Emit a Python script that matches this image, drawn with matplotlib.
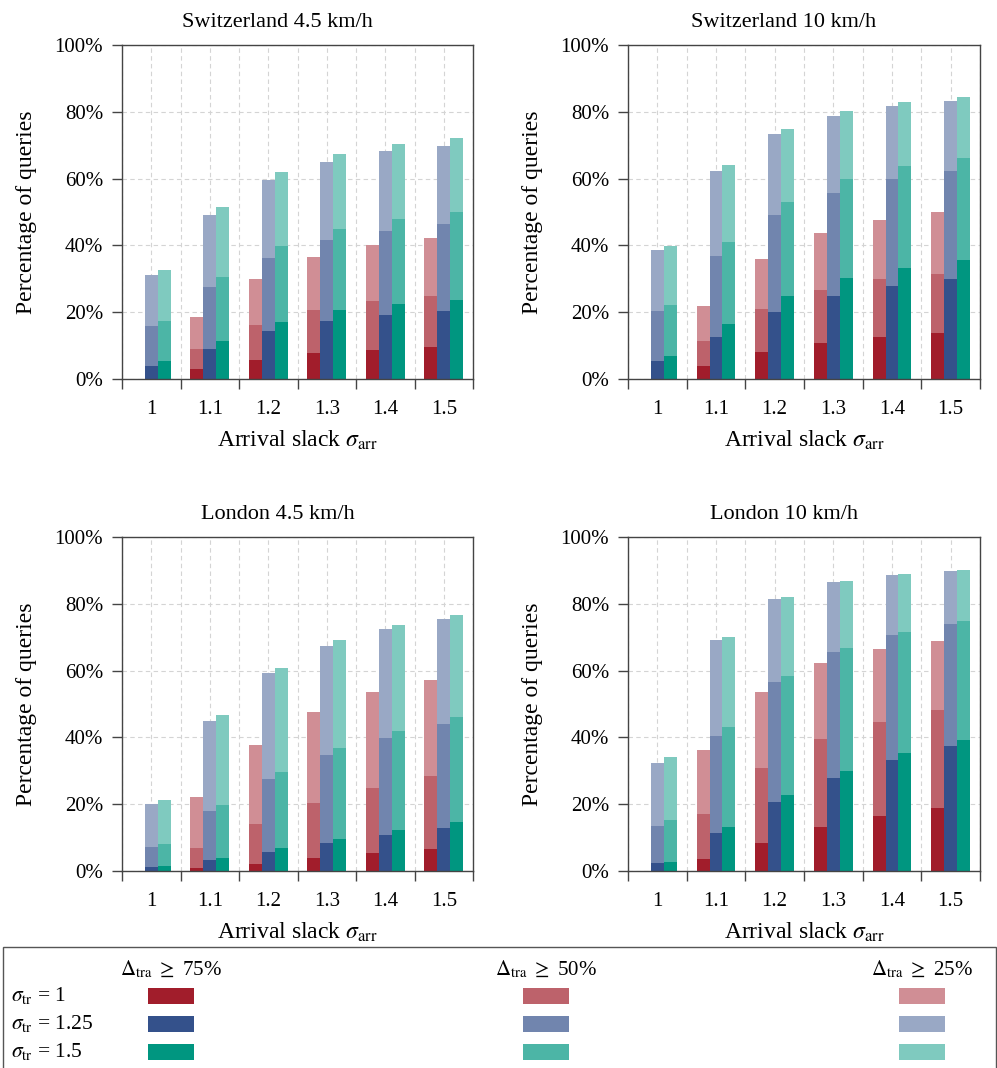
import matplotlib.pyplot as plt
import numpy as np
from matplotlib.patches import Rectangle

plt.rcParams['font.family'] = ['Liberation Serif', 'DejaVu Serif']
plt.rcParams['mathtext.fontset'] = 'stix'

# arrival slack values and labels
slack = np.array([1.0, 1.1, 1.2, 1.3, 1.4, 1.5])
slack_labels = ['1', '1.1', '1.2', '1.3', '1.4', '1.5']
sigma_tr = ['1', '1.25', '1.5']
thresholds = ['75', '50', '25']
titles = ['Switzerland 4.5 km/h', 'Switzerland 10 km/h',
          'London 4.5 km/h', 'London 10 km/h']

# rows: sigma_tr = 1, 1.25, 1.5 -- cumulative share of queries (%)
ch45_75 = [[0, 2.9, 5.6, 7.7, 8.8, 9.5],
           [4.0, 8.9, 14.3, 17.3, 19.1, 20.3],
           [5.3, 11.3, 17.2, 20.6, 22.4, 23.7]]
ch45_50 = [[0, 9.1, 16.1, 20.6, 23.5, 24.9],
           [15.8, 27.4, 36.3, 41.5, 44.4, 46.3],
           [17.5, 30.4, 39.7, 45.0, 48.0, 49.9]]
ch45_25 = [[0, 18.6, 29.8, 36.4, 40.2, 42.3],
           [31.0, 49.2, 59.6, 65.1, 68.2, 69.8],
           [32.6, 51.5, 62.0, 67.4, 70.5, 72.1]]

ch10_75 = [[0, 3.8, 8.0, 10.8, 12.6, 13.7],
           [5.5, 12.6, 20.2, 24.8, 27.7, 29.9],
           [6.8, 16.6, 24.8, 30.1, 33.1, 35.5]]
ch10_50 = [[0, 11.3, 21.1, 26.7, 29.9, 31.5],
           [20.4, 36.9, 49.0, 55.8, 59.9, 62.4],
           [22.3, 41.1, 53.0, 59.8, 63.7, 66.1]]
ch10_25 = [[0, 22.0, 35.9, 43.7, 47.7, 49.9],
           [38.7, 62.4, 73.5, 78.8, 81.7, 83.3],
           [39.9, 64.2, 75.0, 80.2, 83.0, 84.5]]

lon45_75 = [[0, 0.9, 2.2, 3.9, 5.4, 6.6],
            [1.1, 3.2, 5.8, 8.4, 10.8, 13.0],
            [1.4, 3.8, 6.9, 9.6, 12.3, 14.7]]
lon45_50 = [[0, 6.8, 14.1, 20.3, 24.9, 28.3],
            [7.2, 17.9, 27.5, 34.7, 39.8, 44.0],
            [8.1, 19.7, 29.6, 36.8, 41.9, 46.1]]
lon45_25 = [[0, 22.1, 37.6, 47.6, 53.7, 57.2],
            [20.0, 45.0, 59.2, 67.5, 72.4, 75.3],
            [21.4, 46.6, 60.9, 69.1, 73.7, 76.7]]

lon10_75 = [[0, 3.6, 8.4, 13.2, 16.6, 19.0],
            [2.4, 11.4, 20.7, 27.8, 33.3, 37.4],
            [2.8, 13.3, 22.8, 29.9, 35.4, 39.3]]
lon10_50 = [[0, 17.1, 30.8, 39.5, 44.7, 48.3],
            [13.5, 40.5, 56.6, 65.6, 70.7, 73.9],
            [15.3, 43.0, 58.4, 66.8, 71.7, 74.8]]
lon10_25 = [[0, 36.1, 53.7, 62.3, 66.6, 69.0],
            [32.4, 69.2, 81.4, 86.4, 88.6, 89.8],
            [34.0, 70.2, 82.1, 86.7, 88.9, 90.0]]

panels = [(ch45_75, ch45_50, ch45_25), (ch10_75, ch10_50, ch10_25),
          (lon45_75, lon45_50, lon45_25), (lon10_75, lon10_50, lon10_25)]

dark = ['#A11D2B', '#34518B', '#009680']
mid = ['#BD626B', '#7185AE', '#4CB5A6']
light = ['#D08E95', '#99A8C5', '#7FCABF']

W, H = 997, 1068
fig = plt.figure(figsize=(W / 100, H / 100), dpi=100)

# axes boxes in pixels: left, top, right, bottom
boxes = [(122, 45, 473, 379), (628, 45, 980, 379),
         (122, 537, 473, 871), (628, 537, 980, 871)]

bw = 0.022
for k, (l, t, r, b) in enumerate(boxes):
    ax = fig.add_axes([l / W, 1 - b / H, (r - l) / W, (b - t) / H])
    v75, v50, v25 = [np.array(a) for a in panels[k]]
    for i in range(3):
        x = slack + (i - 1) * bw
        ax.bar(x, v75[i], bw, color=dark[i], lw=0, zorder=2)
        ax.bar(x, v50[i] - v75[i], bw, bottom=v75[i], color=mid[i], lw=0, zorder=2)
        ax.bar(x, v25[i] - v50[i], bw, bottom=v50[i], color=light[i], lw=0, zorder=2)

    ax.set_xlim(slack[0] - 0.05, slack[-1] + 0.05)
    ax.set_ylim(0, 100)
    ax.set_xticks(slack)
    ax.set_xticklabels(slack_labels)
    ax.set_xticks(np.append(slack - 0.05, slack[-1] + 0.05), minor=True)
    ax.set_yticks(np.arange(0, 101, 20))
    ax.set_yticklabels([f'{v}%' for v in range(0, 101, 20)])
    ax.tick_params(axis='x', which='major', length=0, pad=15, labelsize=15)
    ax.tick_params(axis='x', which='minor', length=7, width=1, color='#444444')
    ax.tick_params(axis='y', length=7, width=1, color='#444444', pad=6.5, labelsize=15)
    ax.grid(axis='x', which='both', ls=(0, (4, 3)), color='#d4d4d4', lw=0.8, zorder=0)
    ax.grid(axis='y', ls=(0, (4, 3)), color='#d4d4d4', lw=0.8, zorder=0)
    ax.set_axisbelow(True)
    for s in ax.spines.values():
        s.set_color('#444444')
        s.set_linewidth(1)
    ax.set_xlabel(r'Arrival slack $\sigma_{\mathrm{arr}}$', fontsize=17, labelpad=7)
    ax.set_ylabel('Percentage of queries', fontsize=17, labelpad=13)
    ax.set_title(titles[k], fontsize=16, x=0.443, pad=13)

# legend box at the bottom
fig.patches.append(Rectangle((3 / W, -0.01), 993 / W, 1 - 947 / H + 0.01,
                             transform=fig.transFigure, fill=False,
                             ec='#555555', lw=1))
col_x = [171, 546, 922]
sw_x = [148, 523, 899]
row_y = [996, 1024, 1052]
for j, th in enumerate(thresholds):
    fig.text(col_x[j] / W, 1 - 970 / H,
             r'$\Delta_{\mathrm{tra}}$ $\geq$ ' + th + '%',
             ha='center', va='center', fontsize=15)
for i, s in enumerate(sigma_tr):
    fig.text(11 / W, 1 - row_y[i] / H, r'$\sigma_{\mathrm{tr}}$ = ' + s,
             ha='left', va='center', fontsize=15.5)
    for j, cols in enumerate([dark, mid, light]):
        fig.patches.append(Rectangle((sw_x[j] / W, 1 - (row_y[i] + 8) / H),
                                     46 / W, 16 / H, transform=fig.transFigure,
                                     color=cols[i], lw=0))

fig.savefig('out.png', dpi=100)
